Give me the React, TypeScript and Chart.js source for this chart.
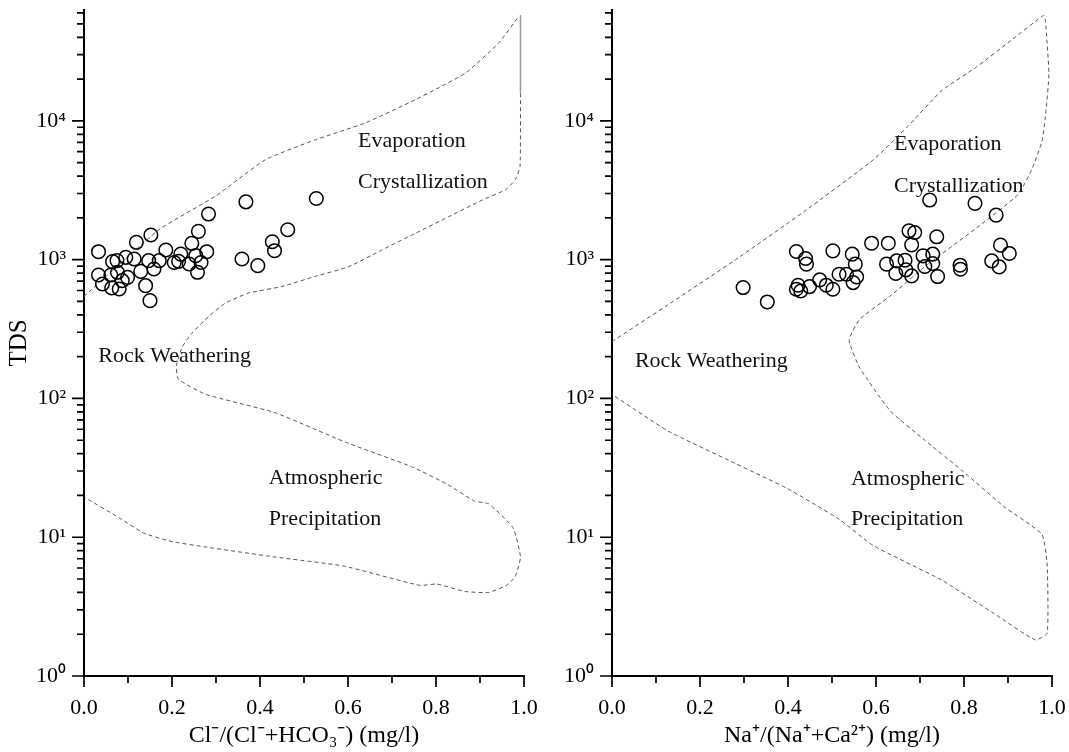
import React, { useEffect, useRef } from 'react';
import { Chart, registerables } from 'chart.js';

Chart.register(...registerables);

const FONT_FAMILY = '"Liberation Serif", "Times New Roman", Times, serif';

// ---------- Axis ticks ----------
const X_MAJOR = [0, 0.2, 0.4, 0.6, 0.8, 1.0];
const X_MINOR = [0.1, 0.3, 0.5, 0.7, 0.9];
const Y_MAJOR = [1, 10, 100, 1000, 10000];
const Y_MAX = 63000;
const SUPERSCRIPTS = ['⁰', '¹', '²', '³', '⁴'];

// ---------- Left panel: Cl-/(Cl-+HCO3-) vs TDS ----------
const CL_RATIO = [0.033, 0.065, 0.075, 0.033, 0.042, 0.063, 0.080, 0.061, 0.076, 0.087, 0.099, 0.095, 0.114, 0.119, 0.129, 0.140, 0.150, 0.152, 0.147, 0.159, 0.171, 0.186, 0.205, 0.215, 0.220, 0.239, 0.245, 0.260, 0.258, 0.266, 0.279, 0.283, 0.254, 0.359, 0.368, 0.395, 0.428, 0.433, 0.463, 0.528];
const CL_TDS = [1142, 968, 985, 776, 668, 626, 615, 776, 811, 706, 746, 1040, 1012, 1334, 824, 650, 507, 1506, 984, 857, 984, 1175, 955, 973, 1097, 931, 1312, 1600, 811, 955, 1142, 2133, 1069, 1012, 2612, 906, 1347, 1161, 1643, 2760];

// Gibbs envelope (left)
const CL_UPPER_X = [0, 0.17, 0.298, 0.412, 0.526, 0.639, 0.753, 0.867, 0.942, 0.988];
const CL_UPPER_TDS = [543, 1644, 2858, 5248, 7311, 9661, 14223, 22131, 36308, 56623];
const CL_EDGE_X = [0.992, 0.992];
const CL_EDGE_TDS = [58000, 15800];
const CL_LOWER_X = [0.992, 0.991, 0.98, 0.958, 0.905, 0.829, 0.753, 0.677, 0.602, 0.526, 0.45, 0.374, 0.321, 0.283, 0.245, 0.223, 0.21, 0.214, 0.277, 0.434, 0.59, 0.747, 0.826, 0.888, 0.92, 0.975, 0.992, 0.98, 0.96, 0.92, 0.865, 0.802, 0.763, 0.59, 0.434, 0.277, 0.2, 0.136, 0.08, 0];
const CL_LOWER_TDS = [15800, 4700, 3767, 3192, 2692, 2042, 1549, 1175, 891, 759, 641, 575, 486, 389, 295, 234, 174, 138, 107, 79, 49, 32, 24, 18.2, 17.4, 11.7, 7.2, 5.2, 4.5, 4.0, 4.07, 4.6, 4.5, 6.2, 7.2, 8.5, 9.3, 10.7, 13.8, 19.5];

// ---------- Right panel: Na+/(Na++Ca2+) vs TDS ----------
const NA_RATIO = [0.298, 0.353, 0.419, 0.440, 0.442, 0.419, 0.423, 0.429, 0.449, 0.472, 0.487, 0.502, 0.502, 0.516, 0.533, 0.546, 0.553, 0.556, 0.548, 0.590, 0.628, 0.624, 0.647, 0.645, 0.666, 0.668, 0.681, 0.675, 0.688, 0.681, 0.707, 0.711, 0.729, 0.729, 0.738, 0.740, 0.722, 0.791, 0.792, 0.825, 0.863, 0.873, 0.880, 0.883, 0.903];
const NA_TDS = [630, 496, 1146, 1020, 929, 612, 654, 595, 640, 715, 655, 612, 1158, 785, 785, 1096, 929, 751, 684, 1315, 1315, 929, 980, 795, 992, 845, 764, 1614, 1571, 1279, 1066, 893, 1096, 939, 1462, 756, 2690, 913, 854, 2547, 980, 2095, 887, 1273, 1109];

// Gibbs envelope (right)
const NA_BOUND_X = [0, 0.125, 0.281, 0.438, 0.594, 0.672, 0.75, 0.829, 0.907, 0.981, 0.985, 0.993, 0.985, 0.977, 0.954, 0.923, 0.829, 0.711, 0.633, 0.563, 0.539, 0.563, 0.633, 0.711, 0.797, 0.891, 0.977, 0.989, 0.989, 0.962, 0.868, 0.75, 0.594, 0.516, 0.399, 0.281, 0.125, 0];
const NA_BOUND_TDS = [257, 468, 1000, 2239, 5248, 9120, 16596, 24547, 38019, 57544, 52481, 21878, 10715, 7079, 4467, 2951, 1698, 891, 550, 372, 263, 166, 81, 50, 30, 16.6, 10.5, 6.3, 2.04, 1.82, 2.82, 4.9, 8.7, 13.5, 22.4, 33.9, 58.9, 107];

// ---------- Region labels ----------
const LABEL_TEXTS = ['Evaporation', 'Crystallization', 'Rock Weathering', 'Atmospheric', 'Precipitation'];
const CL_LABEL_X = [0.623, 0.623, 0.0325, 0.42, 0.42];
const CL_LABEL_TDS = [6441, 3281, 184, 24.1, 12.3];
const NA_LABEL_X = [0.641, 0.641, 0.052, 0.543, 0.543];
const NA_LABEL_TDS = [6200, 3100, 168, 23.6, 12.3];

type Boundary = { xs: number[]; ys: number[]; solid?: boolean };

const toPoints = (xs: number[], ys: number[]) => xs.map((x, i) => ({ x, y: ys[i] }));

function minorYTicks(): number[] {
  const out: number[] = [];
  for (const d of Y_MAJOR) {
    for (let k = 2; k <= 9; k++) {
      const v = k * d;
      if (v <= Y_MAX) out.push(v);
    }
  }
  return out;
}
const Y_MINOR = minorYTicks();

function makeDecor(labelX: number[], labelY: number[]) {
  return {
    id: 'gibbsDecor',
    afterDraw(chart: any) {
      const { ctx, chartArea: a, scales } = chart;
      const xs = scales.x;
      const ys = scales.y;
      ctx.save();
      ctx.strokeStyle = '#000';
      ctx.lineWidth = 1.7;
      ctx.beginPath();
      X_MAJOR.forEach((v) => {
        const p = xs.getPixelForValue(v);
        ctx.moveTo(p, a.bottom);
        ctx.lineTo(p, a.bottom + 11);
      });
      X_MINOR.forEach((v) => {
        const p = xs.getPixelForValue(v);
        ctx.moveTo(p, a.bottom);
        ctx.lineTo(p, a.bottom + 7);
      });
      Y_MAJOR.forEach((v) => {
        const p = ys.getPixelForValue(v);
        ctx.moveTo(a.left, p);
        ctx.lineTo(a.left - 12, p);
      });
      Y_MINOR.forEach((v) => {
        const p = ys.getPixelForValue(v);
        ctx.moveTo(a.left, p);
        ctx.lineTo(a.left - 7, p);
      });
      ctx.stroke();

      ctx.fillStyle = '#111';
      ctx.font = `22px ${FONT_FAMILY}`;
      ctx.textAlign = 'left';
      ctx.textBaseline = 'alphabetic';
      LABEL_TEXTS.forEach((t, i) => {
        ctx.fillText(t, xs.getPixelForValue(labelX[i]), ys.getPixelForValue(labelY[i]));
      });
      ctx.restore();
    },
  };
}

type PanelProps = {
  left: number;
  width: number;
  ratio: number[];
  tds: number[];
  boundaries: Boundary[];
  labelX: number[];
  labelY: number[];
  xTitle: string;
  yTitle?: string;
  yAxisWidth: number;
  padRight: number;
};

function GibbsPanel(props: PanelProps) {
  const ref = useRef<HTMLCanvasElement>(null);
  useEffect(() => {
    const { ratio, tds, boundaries, labelX, labelY, xTitle, yTitle, yAxisWidth, padRight } = props;
    const datasets: any[] = [
      {
        data: toPoints(ratio, tds),
        showLine: false,
        pointRadius: 6.8,
        pointBorderWidth: 1.5,
        pointBorderColor: '#000',
        pointBackgroundColor: 'rgba(0,0,0,0)',
        order: 0,
      },
      ...boundaries.map((b) => ({
        data: toPoints(b.xs, b.ys),
        showLine: true,
        fill: false,
        borderColor: b.solid ? '#9a9a9a' : '#555',
        borderWidth: b.solid ? 1.5 : 1,
        borderDash: b.solid ? [] : [4, 3],
        pointRadius: 0,
        tension: 0.15,
        order: 1,
      })),
    ];
    const chart = new Chart(ref.current as HTMLCanvasElement, {
      type: 'scatter',
      data: { datasets },
      options: {
        responsive: false,
        animation: false,
        events: [],
        layout: { padding: { top: 10, right: padRight, left: 0, bottom: 0 } },
        plugins: { legend: { display: false }, tooltip: { enabled: false } },
        scales: {
          x: {
            type: 'linear',
            position: 'bottom',
            min: 0,
            max: 1,
            bounds: 'data',
            afterBuildTicks: (ax: any) => {
              ax.ticks = X_MAJOR.map((v) => ({ value: v }));
            },
            afterFit: (ax: any) => {
              ax.height = 76;
              ax.paddingLeft = 0;
              ax.paddingRight = 0;
            },
            ticks: {
              callback: (v: any) => Number(v).toFixed(1),
              color: '#000',
              font: { family: FONT_FAMILY, size: 22 },
              padding: 8,
              maxRotation: 0,
              autoSkip: false,
            },
            grid: { display: true, drawOnChartArea: false, drawTicks: true, tickLength: 11, color: 'rgba(0,0,0,0)' },
            border: { display: true, color: '#000', width: 2 },
            title: {
              display: true,
              text: xTitle,
              color: '#000',
              font: { family: FONT_FAMILY, size: 24 },
              padding: { top: 0, bottom: 2 },
            },
          },
          y: {
            type: 'logarithmic',
            position: 'left',
            min: 1,
            max: Y_MAX,
            bounds: 'data',
            afterBuildTicks: (ax: any) => {
              ax.ticks = Y_MAJOR.map((v) => ({ value: v }));
            },
            afterFit: (ax: any) => {
              ax.width = yAxisWidth;
              ax.paddingTop = 0;
              ax.paddingBottom = 0;
            },
            ticks: {
              callback: (v: any) => '10' + SUPERSCRIPTS[Math.round(Math.log10(Number(v)))],
              color: '#000',
              font: { family: FONT_FAMILY, size: 22 },
              padding: 6,
              autoSkip: false,
            },
            grid: { display: true, drawOnChartArea: false, drawTicks: true, tickLength: 12, color: 'rgba(0,0,0,0)' },
            border: { display: true, color: '#000', width: 2 },
            title: {
              display: !!yTitle,
              text: yTitle || '',
              color: '#000',
              font: { family: FONT_FAMILY, size: 25 },
              padding: { top: 4, bottom: 0 },
            },
          },
        },
      } as any,
      plugins: [makeDecor(labelX, labelY)],
    });
    return () => chart.destroy();
  }, []);
  return (
    <canvas
      ref={ref}
      width={props.width}
      height={752}
      style={{ position: 'absolute', left: props.left, top: 0, width: props.width, height: 752 }}
    />
  );
}

export default function App() {
  return (
    <div style={{ position: 'absolute', left: 0, top: 0, width: 1069, height: 752, background: '#fff' }}>
      <GibbsPanel
        left={0}
        width={540}
        ratio={CL_RATIO}
        tds={CL_TDS}
        boundaries={[
          { xs: CL_UPPER_X, ys: CL_UPPER_TDS },
          { xs: CL_EDGE_X, ys: CL_EDGE_TDS, solid: true },
          { xs: CL_LOWER_X, ys: CL_LOWER_TDS },
        ]}
        labelX={CL_LABEL_X}
        labelY={CL_LABEL_TDS}
        xTitle="Cl⁻/(Cl⁻+HCO₃⁻) (mg/l)"
        yTitle="TDS"
        yAxisWidth={84}
        padRight={16}
      />
      <GibbsPanel
        left={540}
        width={529}
        ratio={NA_RATIO}
        tds={NA_TDS}
        boundaries={[{ xs: NA_BOUND_X, ys: NA_BOUND_TDS }]}
        labelX={NA_LABEL_X}
        labelY={NA_LABEL_TDS}
        xTitle="Na⁺/(Na⁺+Ca²⁺) (mg/l)"
        yAxisWidth={72}
        padRight={17}
      />
    </div>
  );
}
